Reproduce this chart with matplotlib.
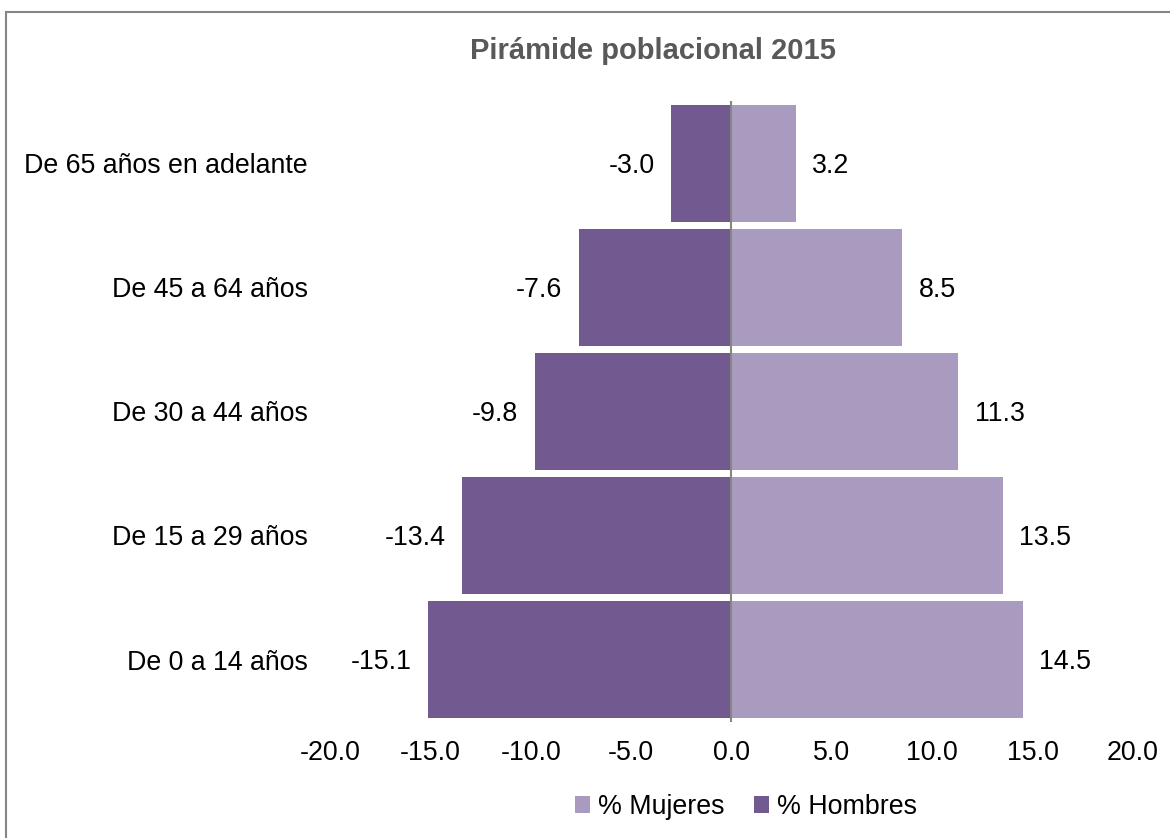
import matplotlib.pyplot as plt
from matplotlib.patches import Rectangle

plt.rcParams['font.family'] = ['Liberation Sans', 'DejaVu Sans']

categories = ["De 0 a 14 años", "De 15 a 29 años", "De 30 a 44 años",
              "De 45 a 64 años", "De 65 años en adelante"]
hombres = [-15.1, -13.4, -9.8, -7.6, -3.0]
mujeres = [14.5, 13.5, 11.3, 8.5, 3.2]
ticks = [-20, -15, -10, -5, 0, 5, 10, 15, 20]

c_hombres = '#72598F'
c_mujeres = '#A99ABF'
fs = 19.3

fig = plt.figure(figsize=(11.7, 8.38), dpi=100)
ax = fig.add_axes([0.282, 0.139, 0.9684 - 0.282, 0.879 - 0.139])

# outer chart border (only left/top visible in the reference)
fig.patches.append(Rectangle((6 / 1170, -0.1), 1.2, 1 - 12.5 / 838 + 0.1,
                             transform=fig.transFigure, fill=False,
                             edgecolor='#868686', linewidth=1.5))

y = range(len(categories))
bm = ax.barh(y, mujeres, height=0.94, color=c_mujeres, label='% Mujeres')
bh = ax.barh(y, hombres, height=0.94, color=c_hombres, label='% Hombres')
ax.axvline(0, color='#868686', linewidth=1.5)

for i in y:
    ax.annotate(f"{hombres[i]:.1f}", (hombres[i], i), xytext=(-12, -2),
                textcoords='offset points', ha='right', va='center', fontsize=fs)
    ax.annotate(f"{mujeres[i]:.1f}", (mujeres[i], i), xytext=(12, -2),
                textcoords='offset points', ha='left', va='center', fontsize=fs)

ax.set_xlim(-20, 20)
ax.set_ylim(-0.5, 4.5)
ax.set_xticks(ticks)
ax.set_xticklabels([f"{t:.1f}" for t in ticks], fontsize=fs)
ax.set_yticks(list(y))
ax.set_yticklabels(categories, fontsize=fs)
ax.tick_params(length=0)
ax.tick_params(axis='x', pad=13)
ax.tick_params(axis='y', pad=16)
for s in ax.spines.values():
    s.set_visible(False)

fig.text(653 / 1170, 1 - 51 / 838, "Pirámide poblacional 2015", ha='center', va='center',
         fontsize=21, fontweight='bold', color='#595959')

fig.legend(handles=[bm, bh], loc='center', bbox_to_anchor=(746 / 1170, 1 - 807 / 838),
           ncol=2, frameon=False, fontsize=fs, handlelength=0.55, handleheight=0.55,
           handletextpad=0.3, columnspacing=1.1)

fig.savefig('out.png', dpi=100)
